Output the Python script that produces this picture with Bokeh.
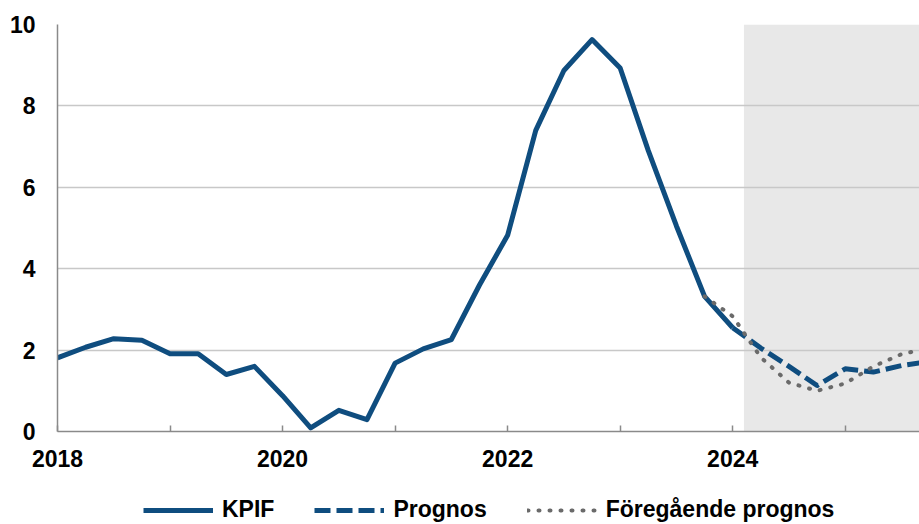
from bokeh.plotting import figure
from bokeh.layouts import column
from bokeh.models import Range1d, FixedTicker, Legend, LegendItem
from bokeh.embed import file_html
from bokeh.resources import INLINE

# ---- data (quarterly, plotted at quarter start) ----
kpif_x = [2018.0, 2018.25, 2018.5, 2018.75, 2019.0, 2019.25, 2019.5, 2019.75,
          2020.0, 2020.25, 2020.5, 2020.75, 2021.0, 2021.25, 2021.5, 2021.75,
          2022.0, 2022.25, 2022.5, 2022.75, 2023.0, 2023.25, 2023.5, 2023.75, 2024.0]
kpif_y = [1.81, 2.07, 2.28, 2.24, 1.91, 1.91, 1.40, 1.60,
          0.88, 0.09, 0.52, 0.29, 1.68, 2.03, 2.26, 3.60,
          4.82, 7.40, 8.87, 9.63, 8.93, 6.90, 5.05, 3.32, 2.55]

prognos_x = [2024.0, 2024.25, 2024.5, 2024.75, 2025.0, 2025.25, 2025.5, 2025.75]
prognos_y = [2.55, 2.05, 1.60, 1.13, 1.54, 1.46, 1.62, 1.72]

prev_x = [2023.75, 2024.0, 2024.25, 2024.5, 2024.75, 2025.0, 2025.25, 2025.5, 2025.75]
prev_y = [3.32, 2.83, 1.82, 1.20, 1.00, 1.18, 1.60, 1.90, 2.05]

forecast_start = 2024.1
forecast_end = 2026.0

year_ticks = [2018, 2019, 2020, 2021, 2022, 2023, 2024, 2025]
year_labels = {2018: "2018", 2019: "", 2020: "2020", 2021: "", 2022: "2022",
               2023: "", 2024: "2024", 2025: ""}
y_ticks = [0, 2, 4, 6, 8, 10]

labels = ["KPIF", "Prognos", "Föregående prognos"]

BLUE = "#0f4d7f"
GREY = "#6a6a6a"
FONT = "Liberation Sans"

STYLES = [dict(line_color=BLUE, line_width=5, line_join="round"),
          dict(line_color=BLUE, line_width=5, line_dash="16 6", line_join="round"),
          dict(line_color=GREY, line_width=4, line_dash="1 10", line_cap="round")]

# ---------------- main chart ----------------
p = figure(width=919, height=478, output_backend="svg", toolbar_location=None,
           x_range=Range1d(2018, 2025.66), y_range=Range1d(0, 10),
           min_border_left=57, min_border_right=0, min_border_top=24,
           min_border_bottom=47)
p.outline_line_color = None
p.background_fill_color = "white"
p.border_fill_color = "white"

# shaded forecast period
p.quad(left=[forecast_start], right=[forecast_end], bottom=[0], top=[10],
       fill_color="#e8e8e8", line_color=None, level="image")

r1 = p.line(kpif_x, kpif_y, **STYLES[0])
r2 = p.line(prognos_x, prognos_y, **STYLES[1])
r3 = p.line(prev_x, prev_y, **STYLES[2])

p.xgrid.grid_line_color = None
p.ygrid.grid_line_color = "#c8c8c8"
p.ygrid.grid_line_width = 1.5
p.ygrid.ticker = FixedTicker(ticks=y_ticks)

xa = p.xaxis[0]
xa.ticker = FixedTicker(ticks=year_ticks)
xa.major_label_overrides = {k: v for k, v in year_labels.items()}
xa.axis_line_color = "#8a8a8a"
xa.axis_line_width = 1.5
xa.major_tick_line_color = "#8a8a8a"
xa.major_tick_line_width = 1.5
xa.major_tick_in = 6
xa.major_tick_out = 0
xa.minor_tick_line_color = None
xa.major_label_standoff = 18
xa.major_label_text_font = FONT
xa.major_label_text_font_style = "bold"
xa.major_label_text_font_size = "23px"
xa.major_label_text_color = "black"

ya = p.yaxis[0]
ya.ticker = FixedTicker(ticks=y_ticks)
ya.axis_line_color = "#8a8a8a"
ya.axis_line_width = 1.5
ya.major_tick_line_color = None
ya.major_tick_in = 0
ya.major_tick_out = 0
ya.minor_tick_line_color = None
ya.major_label_standoff = 22
ya.major_label_text_font = FONT
ya.major_label_text_font_style = "bold"
ya.major_label_text_font_size = "23px"
ya.major_label_text_color = "black"

# ---------------- legend strip ----------------
# the series are drawn again here only so that the legend has real glyphs;
# the x range (0..1) keeps them out of view
lg = figure(width=919, height=46, output_backend="svg", toolbar_location=None,
            x_range=Range1d(0, 1), y_range=Range1d(0, 1),
            x_axis_location=None, y_axis_location=None,
            min_border_left=0, min_border_right=0, min_border_top=0,
            min_border_bottom=0)
lg.outline_line_color = None
lg.grid.visible = False
lg.background_fill_color = "white"
lg.border_fill_color = "white"
l1 = lg.line(kpif_x, kpif_y, **STYLES[0])
l2 = lg.line(prognos_x, prognos_y, **STYLES[1])
l3 = lg.line(prev_x, prev_y, **STYLES[2])

legend = Legend(items=[LegendItem(label=labels[0], renderers=[l1]),
                       LegendItem(label=labels[1], renderers=[l2]),
                       LegendItem(label=labels[2], renderers=[l3])],
                orientation="horizontal", location=(86, 1),
                label_text_font=FONT, label_text_font_style="bold",
                label_text_font_size="23px", label_text_color="black",
                glyph_width=70, glyph_height=20, label_height=20,
                label_standoff=9, spacing=40, padding=0, margin=0,
                border_line_color=None, background_fill_alpha=0)
lg.add_layout(legend, "center")

layout = column(p, lg, spacing=0)
open("out.html", "w").write(file_html(layout, INLINE))
